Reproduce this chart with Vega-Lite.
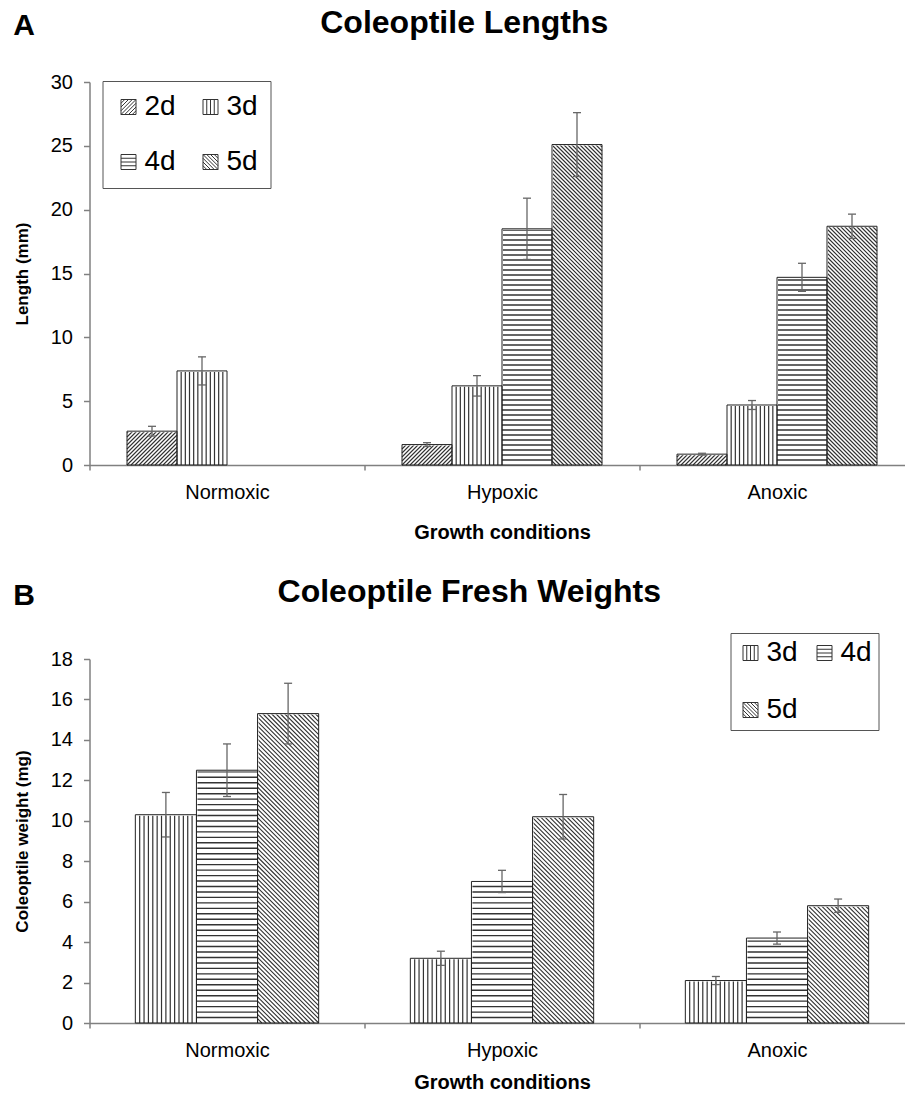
{
"$schema":"https://vega.github.io/schema/vega-lite/v6.json",
"background":"white",
"padding":{"left":12.5,"top":7,"right":0,"bottom":0},
"resolve":{"scale":{"xOffset":"independent","shape":"independent"},"legend":{"shape":"independent"}},
"config":{
"font":"Liberation Sans",
"view":{"stroke":null},
"axis":{"domainColor":"#808080","domainWidth":1.5,"tickColor":"#808080","tickWidth":1.5,"labelFontSize":20,"labelColor":"#000","titleColor":"#000","grid":false,"labelFont":"Liberation Sans","titleFont":"Liberation Sans","titleFontWeight":"bold"},
"axisX":{"tickBand":"extent","tickSize":5,"labelAngle":0,"labelBaseline":"alphabetic","labelPadding":28,"titleFontSize":20},
"axisY":{"tickSize":6,"labelPadding":11,"titleFontSize":17,"titlePadding":19},
"legend":{"labelFontSize":28,"labelFont":"Liberation Sans","labelColor":"#000","symbolSize":225,"symbolStrokeWidth":1,"symbolStrokeColor":"#333","symbolFillColor":"white","symbolOpacity":1,"labelOffset":2,"rowPadding":27,"strokeColor":"#555","fillColor":"white","direction":"horizontal"},
"title":{"font":"Liberation Sans","fontWeight":"bold","color":"#000"},
"concat":{"spacing":33}
},
"datasets":{
"A":[
{"c":"Normoxic","s":"2d","v":2.65,"lo":2.27,"hi":3.03},
{"c":"Normoxic","s":"3d","v":7.37,"lo":6.27,"hi":8.47},
{"c":"Hypoxic","s":"2d","v":1.6,"lo":1.45,"hi":1.75},
{"c":"Hypoxic","s":"3d","v":6.2,"lo":5.4,"hi":7.0},
{"c":"Hypoxic","s":"4d","v":18.5,"lo":16.1,"hi":20.9},
{"c":"Hypoxic","s":"5d","v":25.1,"lo":22.6,"hi":27.6},
{"c":"Anoxic","s":"2d","v":0.85,"lo":0.78,"hi":0.92},
{"c":"Anoxic","s":"3d","v":4.7,"lo":4.35,"hi":5.05},
{"c":"Anoxic","s":"4d","v":14.7,"lo":13.6,"hi":15.8},
{"c":"Anoxic","s":"5d","v":18.7,"lo":17.75,"hi":19.65}
],
"B":[
{"c":"Normoxic","s":"3d","v":10.3,"lo":9.2,"hi":11.4},
{"c":"Normoxic","s":"4d","v":12.5,"lo":11.2,"hi":13.8},
{"c":"Normoxic","s":"5d","v":15.3,"lo":13.8,"hi":16.8},
{"c":"Hypoxic","s":"3d","v":3.2,"lo":2.85,"hi":3.55},
{"c":"Hypoxic","s":"4d","v":7.0,"lo":6.45,"hi":7.55},
{"c":"Hypoxic","s":"5d","v":10.2,"lo":9.1,"hi":11.3},
{"c":"Anoxic","s":"3d","v":2.1,"lo":1.9,"hi":2.3},
{"c":"Anoxic","s":"4d","v":4.2,"lo":3.9,"hi":4.5},
{"c":"Anoxic","s":"5d","v":5.8,"lo":5.47,"hi":6.13}
]
},
"vconcat":[
{"title":{"text":"A","anchor":"start","fontSize":30,"baseline":"alphabetic","offset":0,"dy":58,"dx":0},
"resolve":{"scale":{"xOffset":"independent","shape":"independent"},"legend":{"shape":"independent"}},
"vconcat":[
{"width":825,"height":383,
"title":{"text":"Coleoptile Lengths","fontSize":32,"baseline":"alphabetic","offset":7,"frame":"bounds"},
"data":{"name":"A"},
"encoding":{
"x":{"field":"c","type":"nominal","scale":{"domain":["Normoxic","Hypoxic","Anoxic"],"paddingInner":0,"paddingOuter":0},"axis":{"title":"Growth conditions","titlePadding":20}},
"xOffset":{"field":"s","type":"nominal","scale":{"domain":["2d","3d","4d","5d"],"paddingInner":0,"paddingOuter":0.75}},
"y":{"field":"v","type":"quantitative","scale":{"domain":[0,30],"nice":false},"axis":{"title":"Length (mm)","values":[0,5,10,15,20,25,30]}}
},
"layer":[
{"transform":[{"filter":"datum.s=='2d'"}],"mark":{"type":"point","shape":"M-25,0l36,-36M-21,0l36,-36M-17,0l36,-36M-13,0l36,-36M-9,0l34,-34M-5,0l30,-30M-1,0l26,-26M3,0l22,-22M7,0l18,-18M11,0l14,-14M15,0l10,-10M19,0l6,-6M23,0l2,-2M-25,-4l32,-32M-25,-8l28,-28M-25,-12l24,-24M-25,-16l20,-20M-25,-20l16,-16M-25,-24l12,-12M-25,-28l8,-8M-25,-32l4,-4","size":4,"filled":false,"opacity":1,"color":"#333","strokeWidth":1.1},"encoding":{"y":{"datum":0}}},
{"transform":[{"filter":"datum.s=='3d'"}],"mark":{"type":"point","shape":"M-20.83,0v-96M-16.67,0v-96M-12.5,0v-96M-8.33,0v-96M-4.17,0v-96M0,0v-96M4.17,0v-96M8.33,0v-96M12.5,0v-96M16.67,0v-96M20.83,0v-96","size":4,"filled":false,"opacity":1,"color":"#333","strokeWidth":1.2},"encoding":{"y":{"datum":0}}},
{"transform":[{"filter":"datum.s=='4d'"}],"mark":{"type":"point","shape":"M-25,-5h50M-25,-10h50M-25,-15h50M-25,-20h50M-25,-25h50M-25,-30h50M-25,-35h50M-25,-40h50M-25,-45h50M-25,-50h50M-25,-55h50M-25,-60h50M-25,-65h50M-25,-70h50M-25,-75h50M-25,-80h50M-25,-85h50M-25,-90h50M-25,-95h50M-25,-100h50M-25,-105h50M-25,-110h50M-25,-115h50M-25,-120h50M-25,-125h50M-25,-130h50M-25,-135h50M-25,-140h50M-25,-145h50M-25,-150h50M-25,-155h50M-25,-160h50M-25,-165h50M-25,-170h50M-25,-175h50M-25,-180h50M-25,-185h50M-25,-190h50M-25,-195h50M-25,-200h50M-25,-205h50M-25,-210h50M-25,-215h50M-25,-220h50M-25,-225h50M-25,-230h50M-25,-235h50M-25,-240h50","size":4,"filled":false,"opacity":1,"color":"#333","strokeWidth":1.4},"encoding":{"y":{"datum":0}}},
{"transform":[{"filter":"datum.s=='5d'"}],"mark":{"type":"point","shape":"M-25,-4l4,4M-25,-8l8,8M-25,-12l12,12M-25,-16l16,16M-25,-20l20,20M-25,-24l24,24M-25,-28l28,28M-25,-32l32,32M-25,-36l36,36M-25,-40l40,40M-25,-44l44,44M-25,-48l48,48M-25,-52l50,50M-25,-56l50,50M-25,-60l50,50M-25,-64l50,50M-25,-68l50,50M-25,-72l50,50M-25,-76l50,50M-25,-80l50,50M-25,-84l50,50M-25,-88l50,50M-25,-92l50,50M-25,-96l50,50M-25,-100l50,50M-25,-104l50,50M-25,-108l50,50M-25,-112l50,50M-25,-116l50,50M-25,-120l50,50M-25,-124l50,50M-25,-128l50,50M-25,-132l50,50M-25,-136l50,50M-25,-140l50,50M-25,-144l50,50M-25,-148l50,50M-25,-152l50,50M-25,-156l50,50M-25,-160l50,50M-25,-164l50,50M-25,-168l50,50M-25,-172l50,50M-25,-176l50,50M-25,-180l50,50M-25,-184l50,50M-25,-188l50,50M-25,-192l50,50M-25,-196l50,50M-25,-200l50,50M-25,-204l50,50M-25,-208l50,50M-25,-212l50,50M-25,-216l50,50M-25,-220l50,50M-25,-224l50,50M-25,-228l50,50M-25,-232l50,50M-25,-236l50,50M-25,-240l50,50M-25,-244l50,50M-25,-248l50,50M-25,-252l50,50M-25,-256l50,50M-25,-260l50,50M-25,-264l50,50M-25,-268l50,50M-25,-272l50,50M-25,-276l50,50M-25,-280l50,50M-25,-284l50,50M-25,-288l50,50M-25,-292l50,50M-25,-296l50,50M-25,-300l50,50M-25,-304l50,50M-25,-308l50,50M-25,-312l50,50M-25,-316l50,50M-25,-320l50,50M-25,-324l50,50M-21,-324l46,46M-17,-324l42,42M-13,-324l38,38M-9,-324l34,34M-5,-324l30,30M-1,-324l26,26M3,-324l22,22M7,-324l18,18M11,-324l14,14M15,-324l10,10M19,-324l6,6M23,-324l2,2","size":4,"filled":false,"opacity":1,"color":"#333","strokeWidth":1.1},"encoding":{"y":{"datum":0}}},
{"mark":{"type":"bar","fill":"white","stroke":"white","strokeWidth":2},"encoding":{"y2":{"datum":30}}},
{"mark":{"type":"bar","fill":"transparent","stroke":"#222","strokeWidth":1}},
{"mark":{"type":"rule","color":"#666","strokeWidth":1.3},"encoding":{"y":{"field":"lo","type":"quantitative"},"y2":{"field":"hi"}}},
{"mark":{"type":"tick","orient":"horizontal","size":8,"thickness":1.3,"color":"#666","opacity":1},"encoding":{"y":{"field":"lo","type":"quantitative"}}},
{"mark":{"type":"tick","orient":"horizontal","size":8,"thickness":1.3,"color":"#666","opacity":1},"encoding":{"y":{"field":"hi","type":"quantitative"}}},
{"mark":{"type":"point","clip":true,"filled":false,"opacity":1,"color":"#333","strokeWidth":1},"encoding":{"y":{"datum":-5},"shape":{"field":"s","type":"nominal","scale":{"domain":["2d","3d","4d","5d"],"range":["M-1,-1H1V1H-1ZM-1,-0.5L-0.5,-1M-1,0L0,-1M-1,0.5L0.5,-1M-1,1L1,-1M-0.5,1L1,-0.5M0,1L1,0M0.5,1L1,0.5","M-1,-1H1V1H-1ZM-0.5,-1V1M0,-1V1M0.5,-1V1","M-1,-1H1V1H-1ZM-1,-0.5H1M-1,0H1M-1,0.5H1","M-1,-1H1V1H-1ZM-1,0.5L-0.5,1M-1,0L0,1M-1,-0.5L0.5,1M-1,-1L1,1M-0.5,-1L1,0.5M0,-1L1,0M0.5,-1L1,-0.5"]},"legend":{"title":null,"orient":"none","legendX":13,"legendY":-1,"columns":2,"columnPadding":20,"padding":12}}}}
]}
]},
{"title":{"text":"B","anchor":"start","fontSize":30,"baseline":"alphabetic","offset":0,"dy":59,"dx":0},
"resolve":{"scale":{"xOffset":"independent","shape":"independent"},"legend":{"shape":"independent"}},
"vconcat":[
{"width":825,"height":364,
"title":{"text":"Coleoptile Fresh Weights","fontSize":32,"baseline":"alphabetic","offset":-1,"frame":"bounds","dx":5},
"data":{"name":"B"},
"encoding":{
"x":{"field":"c","type":"nominal","scale":{"domain":["Normoxic","Hypoxic","Anoxic"],"paddingInner":0,"paddingOuter":0},"axis":{"title":"Growth conditions","titlePadding":12}},
"xOffset":{"field":"s","type":"nominal","scale":{"domain":["3d","4d","5d"],"paddingInner":0,"paddingOuter":0.75}},
"y":{"field":"v","type":"quantitative","scale":{"domain":[0,18],"nice":false},"axis":{"title":"Coleoptile weight (mg)","values":[0,2,4,6,8,10,12,14,16,18]}}
},
"layer":[
{"transform":[{"filter":"datum.s=='3d'"}],"mark":{"type":"point","shape":"M-24,0v-192M-20,0v-192M-16,0v-192M-12,0v-192M-8,0v-192M-4,0v-192M0,0v-192M4,0v-192M8,0v-192M12,0v-192M16,0v-192M20,0v-192M24,0v-192","size":4.77,"filled":false,"opacity":1,"color":"#333","strokeWidth":1.2},"encoding":{"y":{"datum":0}}},
{"transform":[{"filter":"datum.s=='4d'"}],"mark":{"type":"point","shape":"M-28,-5h56M-28,-10h56M-28,-15h56M-28,-20h56M-28,-25h56M-28,-30h56M-28,-35h56M-28,-40h56M-28,-45h56M-28,-50h56M-28,-55h56M-28,-60h56M-28,-65h56M-28,-70h56M-28,-75h56M-28,-80h56M-28,-85h56M-28,-90h56M-28,-95h56M-28,-100h56M-28,-105h56M-28,-110h56M-28,-115h56M-28,-120h56M-28,-125h56M-28,-130h56M-28,-135h56M-28,-140h56M-28,-145h56M-28,-150h56M-28,-155h56M-28,-160h56M-28,-165h56M-28,-170h56M-28,-175h56M-28,-180h56M-28,-185h56M-28,-190h56M-28,-195h56M-28,-200h56M-28,-205h56M-28,-210h56M-28,-215h56M-28,-220h56M-28,-225h56M-28,-230h56M-28,-235h56","size":4.77,"filled":false,"opacity":1,"color":"#333","strokeWidth":1.4},"encoding":{"y":{"datum":0}}},
{"transform":[{"filter":"datum.s=='5d'"}],"mark":{"type":"point","shape":"M-28,-4l4,4M-28,-8l8,8M-28,-12l12,12M-28,-16l16,16M-28,-20l20,20M-28,-24l24,24M-28,-28l28,28M-28,-32l32,32M-28,-36l36,36M-28,-40l40,40M-28,-44l44,44M-28,-48l48,48M-28,-52l52,52M-28,-56l56,56M-28,-60l56,56M-28,-64l56,56M-28,-68l56,56M-28,-72l56,56M-28,-76l56,56M-28,-80l56,56M-28,-84l56,56M-28,-88l56,56M-28,-92l56,56M-28,-96l56,56M-28,-100l56,56M-28,-104l56,56M-28,-108l56,56M-28,-112l56,56M-28,-116l56,56M-28,-120l56,56M-28,-124l56,56M-28,-128l56,56M-28,-132l56,56M-28,-136l56,56M-28,-140l56,56M-28,-144l56,56M-28,-148l56,56M-28,-152l56,56M-28,-156l56,56M-28,-160l56,56M-28,-164l56,56M-28,-168l56,56M-28,-172l56,56M-28,-176l56,56M-28,-180l56,56M-28,-184l56,56M-28,-188l56,56M-28,-192l56,56M-28,-196l56,56M-28,-200l56,56M-28,-204l56,56M-28,-208l56,56M-28,-212l56,56M-28,-216l56,56M-28,-220l56,56M-28,-224l56,56M-28,-228l56,56M-28,-232l56,56M-28,-236l56,56M-28,-240l56,56M-28,-244l56,56M-28,-248l56,56M-28,-252l56,56M-28,-256l56,56M-28,-260l56,56M-28,-264l56,56M-28,-268l56,56M-28,-272l56,56M-28,-276l56,56M-28,-280l56,56M-28,-284l56,56M-28,-288l56,56M-24,-288l52,52M-20,-288l48,48M-16,-288l44,44M-12,-288l40,40M-8,-288l36,36M-4,-288l32,32M0,-288l28,28M4,-288l24,24M8,-288l20,20M12,-288l16,16M16,-288l12,12M20,-288l8,8M24,-288l4,4","size":4.77,"filled":false,"opacity":1,"color":"#333","strokeWidth":1.1},"encoding":{"y":{"datum":0}}},
{"mark":{"type":"bar","fill":"white","stroke":"white","strokeWidth":2},"encoding":{"y2":{"datum":18}}},
{"mark":{"type":"bar","fill":"transparent","stroke":"#222","strokeWidth":1}},
{"mark":{"type":"rule","color":"#666","strokeWidth":1.3},"encoding":{"y":{"field":"lo","type":"quantitative"},"y2":{"field":"hi"}}},
{"mark":{"type":"tick","orient":"horizontal","size":8,"thickness":1.3,"color":"#666","opacity":1},"encoding":{"y":{"field":"lo","type":"quantitative"}}},
{"mark":{"type":"tick","orient":"horizontal","size":8,"thickness":1.3,"color":"#666","opacity":1},"encoding":{"y":{"field":"hi","type":"quantitative"}}},
{"mark":{"type":"point","clip":true,"filled":false,"opacity":1,"color":"#333","strokeWidth":1},"encoding":{"y":{"datum":-5},"shape":{"field":"s","type":"nominal","scale":{"domain":["3d","4d","5d"],"range":["M-1,-1H1V1H-1ZM-0.5,-1V1M0,-1V1M0.5,-1V1","M-1,-1H1V1H-1ZM-1,-0.5H1M-1,0H1M-1,0.5H1","M-1,-1H1V1H-1ZM-1,0.5L-0.5,1M-1,0L0,1M-1,-0.5L0.5,1M-1,-1L1,1M-0.5,-1L1,0.5M0,-1L1,0M0.5,-1L1,-0.5"]},"legend":{"title":null,"orient":"none","legendX":641,"legendY":-26,"columns":2,"columnPadding":12,"padding":6,"rowPadding":29}}}}
]}
]}
]
}
